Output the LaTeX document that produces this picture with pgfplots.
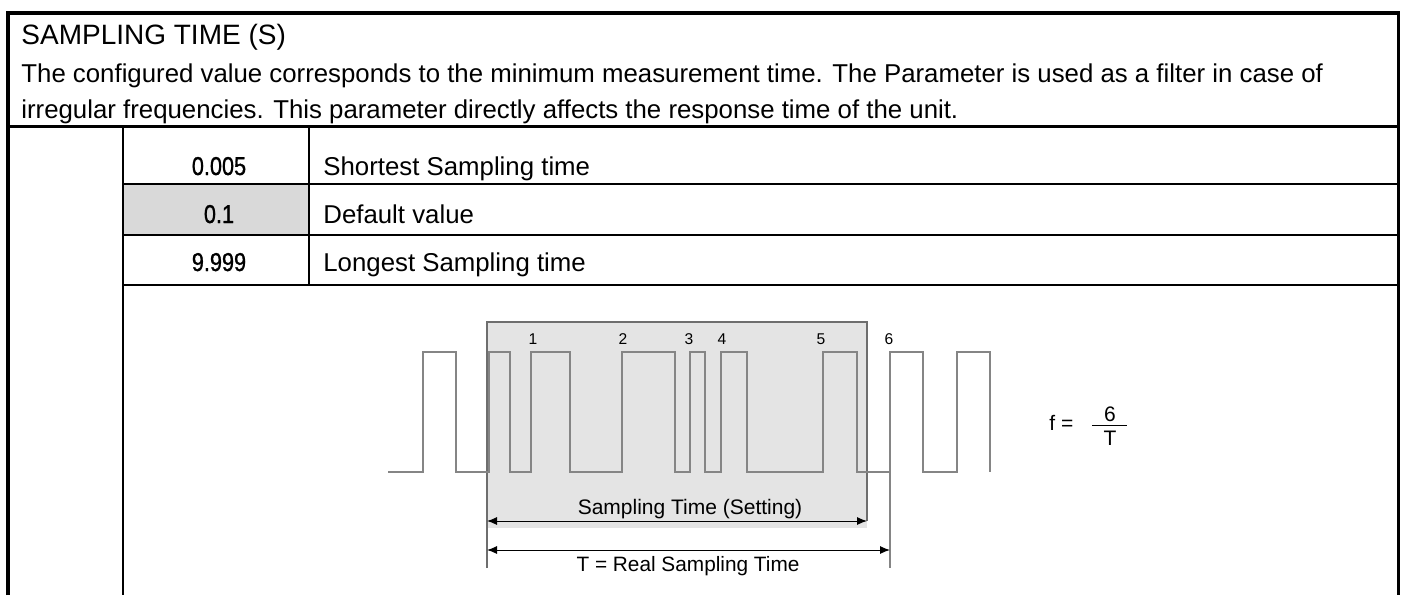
\documentclass[border=0pt]{standalone}
\usepackage{pgfplots}
\pgfplotsset{compat=1.18}
\usepackage{pgfplotstable}
\usepackage{fontspec}
\setmainfont{Liberation Sans}
\newfontfamily\docfont{Liberation Sans}
\newfontfamily\docbold{Liberation Sans}[FakeStretch=0.84,FakeBold=1.0]
\usetikzlibrary{arrows.meta}
\definecolor{cellgray}{HTML}{D9D9D9}
\definecolor{boxgray}{HTML}{E4E4E4}
\definecolor{boxline}{HTML}{6E6E6E}
\definecolor{wavegray}{HTML}{858585}

% waveform transitions (pixel coordinates of the reference, y downwards)
\pgfplotstableread{
x y
388 472
423 472
423 352
456 352
456 472
489 472
489 352
510 352
510 472
531 472
531 352
570 352
570 472
622 472
622 352
675 352
675 472
690 472
690 352
705 352
705 472
721 472
721 352
747 352
747 472
823 472
823 352
857 352
857 472
890 472
890 352
923 352
923 472
957 472
957 352
990 352
990 472
}\wave

\begin{document}
\begin{tikzpicture}
\begin{axis}[
  x=0.5pt, y=0.5pt, y dir=reverse,
  xmin=0, xmax=1404, ymin=0, ymax=595,
  hide axis, clip=false,
]
\path (axis cs:0,0) rectangle (axis cs:1404,595);

% grey cell
\addplot[fill=cellgray, draw=none] coordinates {(123,184) (309,184) (309,235) (123,235)} -- cycle;

% frame and table lines
\draw[line width=1.75pt] (axis cs:8,595) -- (axis cs:8,13) -- (axis cs:1398.5,13) -- (axis cs:1398.5,595);
\draw[line width=1.5pt] (axis cs:8,126.5) -- (axis cs:1398.5,126.5);
\draw[line width=1pt] (axis cs:123,184) -- (axis cs:1398.5,184);
\draw[line width=1pt] (axis cs:123,235) -- (axis cs:1398.5,235);
\draw[line width=1pt] (axis cs:123,285) -- (axis cs:1398.5,285);
\draw[line width=1pt] (axis cs:123,126.5) -- (axis cs:123,595);
\draw[line width=1pt] (axis cs:309,126.5) -- (axis cs:309,285);

% texts
\node[anchor=base west, inner sep=0pt, font=\docfont\fontsize{14}{16}\selectfont] at (axis cs:21,44) {SAMPLING TIME (S)};
\node[anchor=base west, inner sep=0pt, font=\docfont\fontsize{12.9}{15}\selectfont] at (axis cs:21,83) {The configured value corresponds to the minimum measurement time. The Parameter is used as a filter in case of};
\node[anchor=base west, inner sep=0pt, font=\docfont\fontsize{12.9}{15}\selectfont] at (axis cs:21,118) {irregular frequencies. This parameter directly affects the response time of the unit.};

\node[anchor=base, inner sep=0pt, font=\docbold\fontsize{12.9}{15}\selectfont] at (axis cs:219,175) {0.005};
\node[anchor=base, inner sep=0pt, font=\docbold\fontsize{12.9}{15}\selectfont] at (axis cs:219,223) {0.1};
\node[anchor=base, inner sep=0pt, font=\docbold\fontsize{12.9}{15}\selectfont] at (axis cs:219,271) {9.999};
\node[anchor=base west, inner sep=0pt, font=\docfont\fontsize{12.9}{15}\selectfont] at (axis cs:323,175) {Shortest Sampling time};
\node[anchor=base west, inner sep=0pt, font=\docfont\fontsize{12.9}{15}\selectfont] at (axis cs:323,223) {Default value};
\node[anchor=base west, inner sep=0pt, font=\docfont\fontsize{12.9}{15}\selectfont] at (axis cs:323,271) {Longest Sampling time};

% diagram: grey box
\addplot[fill=boxgray, draw=none] coordinates {(487,322) (867,322) (867,528) (487,528)} -- cycle;
\addplot[boxline, line width=0.6pt] coordinates {(487,568) (487,322) (867,322) (867,521)};
% waveform
\addplot[wavegray, line width=0.65pt] table {\wave};
\addplot[wavegray, line width=0.65pt] coordinates {(890,472) (890,568)};
% dimension arrows
\addplot[black, line width=0.5pt, {Latex[length=5pt,width=4pt]}-{Latex[length=5pt,width=4pt]}] coordinates {(487,521) (867,521)};
\addplot[black, line width=0.5pt, {Latex[length=5pt,width=4pt]}-{Latex[length=5pt,width=4pt]}] coordinates {(487,550) (890,550)};

\node[anchor=base, inner sep=0pt, font=\fontsize{10.5}{12}\selectfont] at (axis cs:690,514) {Sampling Time (Setting)};
\node[anchor=base, inner sep=0pt, font=\fontsize{10.4}{12}\selectfont] at (axis cs:688,571) {T = Real Sampling Time};

\node[anchor=base, inner sep=0pt, font=\fontsize{7.8}{10}\selectfont] at (axis cs:533,344) {1};
\node[anchor=base, inner sep=0pt, font=\fontsize{7.8}{10}\selectfont] at (axis cs:623,344) {2};
\node[anchor=base, inner sep=0pt, font=\fontsize{7.8}{10}\selectfont] at (axis cs:689,344) {3};
\node[anchor=base, inner sep=0pt, font=\fontsize{7.8}{10}\selectfont] at (axis cs:722,344) {4};
\node[anchor=base, inner sep=0pt, font=\fontsize{7.8}{10}\selectfont] at (axis cs:821,344) {5};
\node[anchor=base, inner sep=0pt, font=\fontsize{7.8}{10}\selectfont] at (axis cs:889,344) {6};
\node[anchor=base west, inner sep=0pt, font=\fontsize{10.5}{12}\selectfont] at (axis cs:1049,430) {f =};
\node[anchor=base, inner sep=0pt, font=\fontsize{10.5}{12}\selectfont] at (axis cs:1110,421) {6};
\node[anchor=base, inner sep=0pt, font=\fontsize{10.5}{12}\selectfont] at (axis cs:1110,445) {T};
\draw[line width=0.5pt] (axis cs:1092,425.5) -- (axis cs:1127,425.5);
\end{axis}
\end{tikzpicture}
\end{document}
